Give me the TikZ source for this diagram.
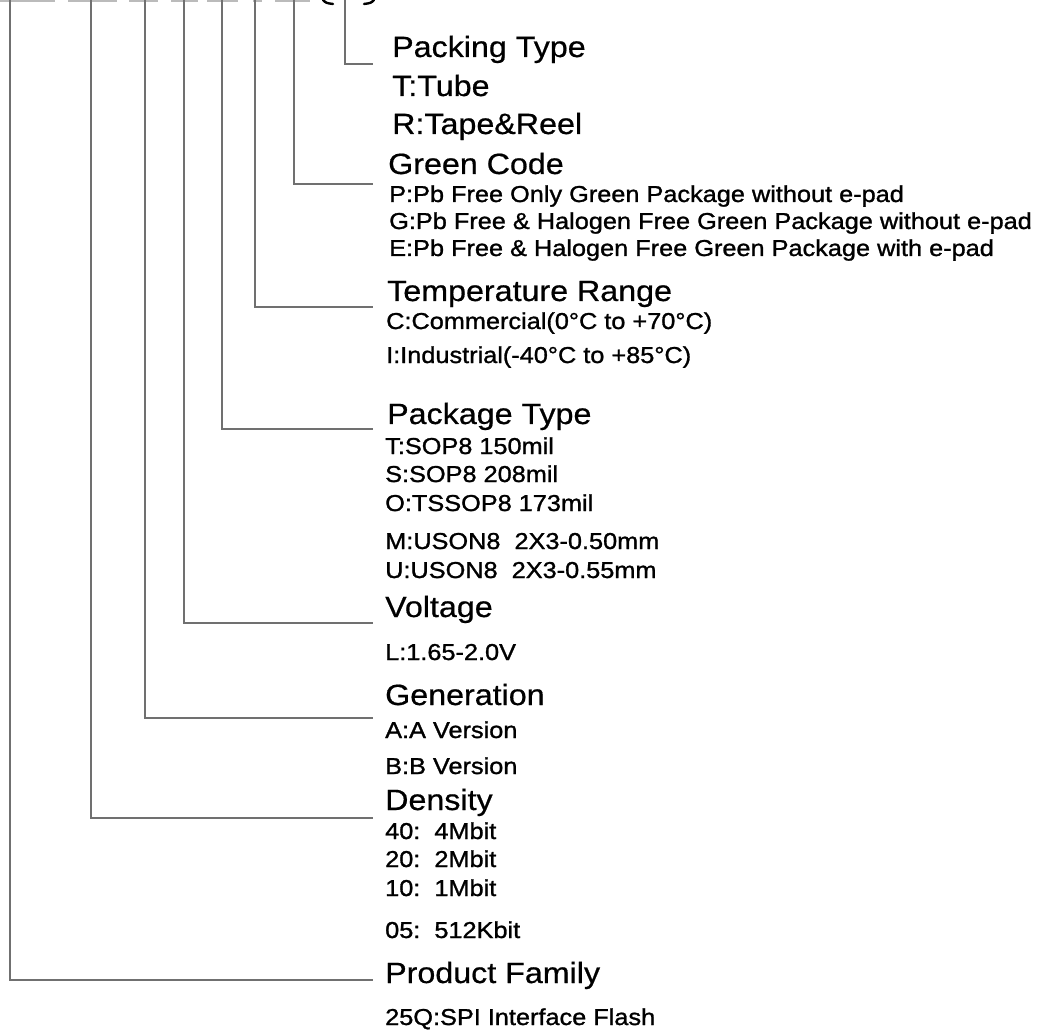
\documentclass[tikz,border=0pt]{standalone}
\usepackage{fontspec}
\setmainfont{Liberation Sans}[FakeStretch=1.1]
\newfontfamily\headfont{Liberation Sans}[FakeStretch=1.1, FakeBold=0.6]
\newfontfamily\itemfont{Liberation Sans}[FakeStretch=1.1, FakeBold=1.2]
\definecolor{leadgray}{HTML}{707070}
\definecolor{bargray}{HTML}{BBBBBB}
\begin{document}
\begin{tikzpicture}[x=1pt,y=-1pt,
  head/.style={anchor=base west, inner sep=0pt, font=\headfont\fontsize{29.3}{30}\selectfont},
  item/.style={anchor=base west, inner sep=0pt, font=\itemfont\fontsize{23}{24}\selectfont},
  lead/.style={draw=leadgray, line width=1.2pt},
  topbar/.style={draw=bargray, line width=1.6pt},
  paren/.style={draw=black, line width=2.4pt, line cap=round}]
\useasboundingbox (0,0) rectangle (1050,1032);

% cut-off part number at the top edge
\foreach \a/\b in {0/55,68/117,129/158,171/198,207/238,253/262,275/310}
  \draw[topbar] (\a,0.8) -- (\b,0.8);
\draw[paren] (323,0) .. controls (326,3) .. (333,4);
\draw[paren] (374,0) .. controls (371,3) .. (364,4);

% Packing type
\node[head] (pack)  at (392,57)  {Packing Type};
\node[head] (packT) at (392,96)  {T:Tube};
\node[head] (packR) at (392,134) {R:Tape\&Reel};
% Green code
\node[head] (green)  at (388,174) {Green Code};
\node[item] (greenP) at (389,202) {P:Pb Free Only Green Package without e-pad};
\node[item] (greenG) at (389,229) {G:Pb Free \& Halogen Free Green Package without e-pad};
\node[item] (greenE) at (389,256) {E:Pb Free \& Halogen Free Green Package with e-pad};
% Temperature
\node[head] (temp)  at (387,301) {Temperature Range};
\node[item] (tempC) at (386,329) {C:Commercial(0°C to +70°C)};
\node[item] (tempI) at (386,363) {I:Industrial(-40°C to +85°C)};
% Package
\node[head] (pkg)  at (387,424) {Package Type};
\node[item] (pkgT) at (385,454) {T:SOP8 150mil};
\node[item] (pkgS) at (385,482) {S:SOP8 208mil};
\node[item] (pkgO) at (385,511) {O:TSSOP8 173mil};
\node[item] (pkgM) at (385,549) {M:USON8\ \ 2X3-0.50mm};
\node[item] (pkgU) at (385,578) {U:USON8\ \ 2X3-0.55mm};
% Voltage
\node[head] (volt)  at (385,617) {Voltage};
\node[item] (voltL) at (385,660) {L:1.65-2.0V};
% Generation
\node[head] (gen)  at (385,705) {Generation};
\node[item] (genA) at (385,738) {A:A Version};
\node[item] (genB) at (385,774) {B:B Version};
% Density
\node[head] (dens)    at (385,810) {Density};
\node[item] (dens40)  at (385,839) {40:\ \ 4Mbit};
\node[item] (dens20)  at (385,867) {20:\ \ 2Mbit};
\node[item] (dens10)  at (385,896) {10:\ \ 1Mbit};
\node[item] (dens05)  at (385,938) {05:\ \ 512Kbit};
% Product family
\node[head] (fam)  at (385,983)  {Product Family};
\node[item] (famQ) at (385,1025) {25Q:SPI Interface Flash};

% leader lines
\foreach \n/\x/\y in {pack/345/64, green/294/184, temp/255/307, pkg/222/429,
                      volt/184/623, gen/145/718, dens/91/818, fam/10/980}{
  \coordinate (\n-top) at (\x,0);
  \coordinate (\n-end) at (373,\y);
  \draw[lead] (\n-top) |- (\n-end);
}
\end{tikzpicture}
\end{document}
